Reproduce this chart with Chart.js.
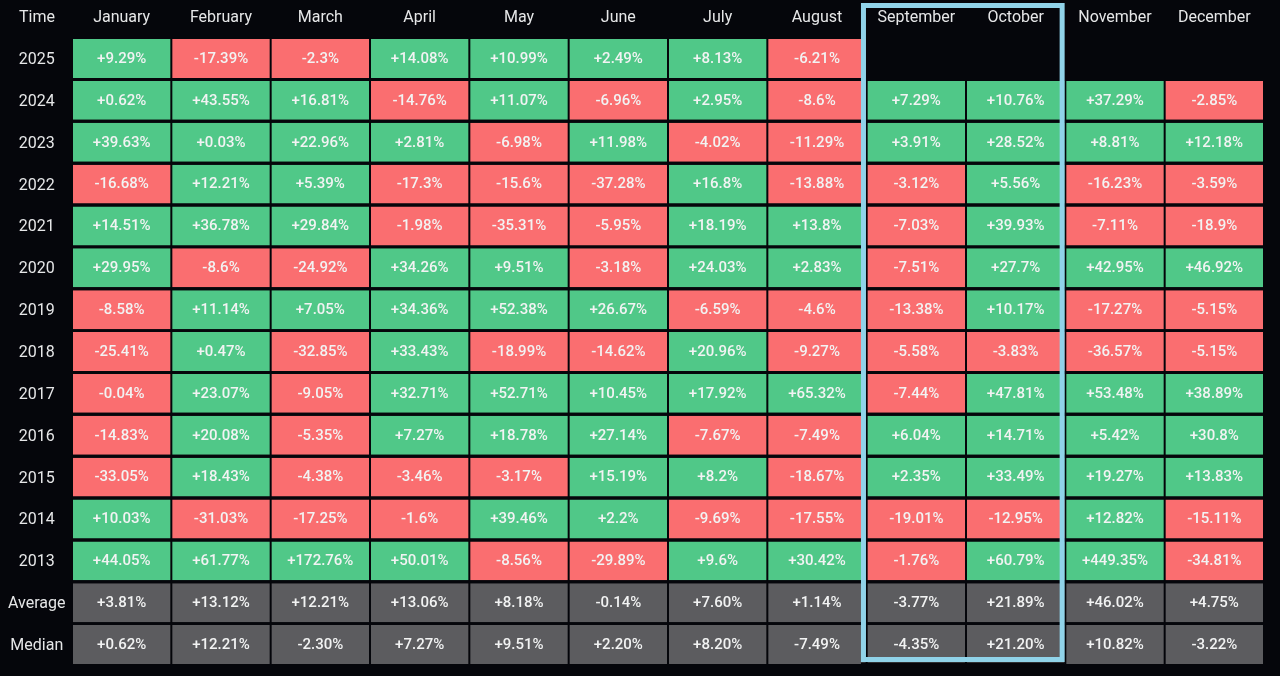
<!DOCTYPE html>
<html><head><meta charset="utf-8">
<script src="https://cdn.jsdelivr.net/npm/chart.js@4"></script>
<style>html,body{margin:0;padding:0;background:#05060b;overflow:hidden}canvas{display:block}</style>
</head><body><canvas id="c" width="1280" height="676"></canvas>
<script>
const months=['January','February','March','April','May','June','July','August','September','October','November','December'];
const rowLabels=['2025','2024','2023','2022','2021','2020','2019','2018','2017','2016','2015','2014','2013','Average','Median'];
const y2025=[9.29,-17.39,-2.3,14.08,10.99,2.49,8.13,-6.21,null,null,null,null];
const y2024=[0.62,43.55,16.81,-14.76,11.07,-6.96,2.95,-8.6,7.29,10.76,37.29,-2.85];
const y2023=[39.63,0.03,22.96,2.81,-6.98,11.98,-4.02,-11.29,3.91,28.52,8.81,12.18];
const y2022=[-16.68,12.21,5.39,-17.3,-15.6,-37.28,16.8,-13.88,-3.12,5.56,-16.23,-3.59];
const y2021=[14.51,36.78,29.84,-1.98,-35.31,-5.95,18.19,13.8,-7.03,39.93,-7.11,-18.9];
const y2020=[29.95,-8.6,-24.92,34.26,9.51,-3.18,24.03,2.83,-7.51,27.7,42.95,46.92];
const y2019=[-8.58,11.14,7.05,34.36,52.38,26.67,-6.59,-4.6,-13.38,10.17,-17.27,-5.15];
const y2018=[-25.41,0.47,-32.85,33.43,-18.99,-14.62,20.96,-9.27,-5.58,-3.83,-36.57,-5.15];
const y2017=[-0.04,23.07,-9.05,32.71,52.71,10.45,17.92,65.32,-7.44,47.81,53.48,38.89];
const y2016=[-14.83,20.08,-5.35,7.27,18.78,27.14,-7.67,-7.49,6.04,14.71,5.42,30.8];
const y2015=[-33.05,18.43,-4.38,-3.46,-3.17,15.19,8.2,-18.67,2.35,33.49,19.27,13.83];
const y2014=[10.03,-31.03,-17.25,-1.6,39.46,2.2,-9.69,-17.55,-19.01,-12.95,12.82,-15.11];
const y2013=[44.05,61.77,172.76,50.01,-8.56,-29.89,9.6,30.42,-1.76,60.79,449.35,-34.81];
const average=[3.81,13.12,12.21,13.06,8.18,-0.14,7.60,1.14,-3.77,21.89,46.02,4.75];
const median=[0.62,12.21,-2.30,7.27,9.51,2.20,8.20,-7.49,-4.35,21.20,10.82,-3.22];
const rows=[y2025,y2024,y2023,y2022,y2021,y2020,y2019,y2018,y2017,y2016,y2015,y2014,y2013,average,median];

const BG='#05060b',GREEN='#50c888',RED='#fa6e70',GREY='#5c5c5f',BOX='#90d3e9';
const FONT='Roboto, sans-serif';
const isSummary=r=>r>=13;
const fmt=(v,r)=>(v>=0?'+':'')+(isSummary(r)?v.toFixed(2):String(v))+'%';

const datasets=rows.map((vals,r)=>{
  const data=[];
  vals.forEach((v,m)=>{ if(v!==null) data.push({x:[m,m+1],y:rowLabels[r],v:v}); });
  return {
    label:rowLabels[r],data,grouped:false,
    backgroundColor:data.map(d=>isSummary(r)?GREY:(d.v>=0?GREEN:RED)),
    borderColor:BG,borderWidth:{left:1,right:1,top:0,bottom:0},borderSkipped:false,
    barPercentage:1,categoryPercentage:0.93
  };
});

const cellText={id:'cellText',afterDatasetsDraw(chart){
  const c=chart.ctx;c.save();
  c.font='500 15px '+FONT;c.fillStyle='#f2f3f3';c.textAlign='center';c.textBaseline='middle';
  chart.data.datasets.forEach((ds,r)=>{
    chart.getDatasetMeta(r).data.forEach((el,i)=>{
      const p=el.getCenterPoint();
      c.fillText(fmt(ds.data[i].v,r),p.x,p.y+0.5);
    });
  });
  c.fillStyle='#e6e7e8';c.font='400 16px '+FONT;
  c.fillText('Time',37,17.5);
  const x=chart.scales.x,ca=chart.chartArea;
  c.strokeStyle=BOX;c.lineWidth=5;
  const l=x.getPixelForValue(8)-3.2,r2=x.getPixelForValue(10)-3.2;
  c.strokeRect(l,5.5,r2-l,654);
  c.fillStyle=BG;c.fillRect(l-2.5,662.5,r2-l+5,ca.bottom-662.5+2);
  c.restore();
}};

new Chart(document.getElementById('c'),{
  type:'bar',
  data:{labels:rowLabels,datasets},
  plugins:[cellText],
  options:{
    indexAxis:'y',responsive:false,animation:false,
    parsing:{xAxisKey:'x',yAxisKey:'y'},
    layout:{padding:{left:0,top:0,right:16,bottom:10.5}},
    plugins:{legend:{display:false},tooltip:{enabled:false}},
    scales:{
      x:{type:'linear',min:0,max:12,display:false},
      xTop:{type:'category',axis:'x',position:'top',labels:months,offset:true,
        grid:{display:false,drawTicks:false},border:{display:false},
        ticks:{color:'#e6e7e8',font:{family:FONT,size:16,weight:'400'},padding:10.5,maxRotation:0,autoSkip:false},
        afterFit(s){s.height=37.6;s.paddingLeft=0;s.paddingRight=0;}},
      y:{type:'category',offset:true,
        grid:{display:false,drawTicks:false},border:{display:false},
        ticks:{color:'#e6e7e8',font:{family:FONT,size:16,weight:'400'},crossAlign:'center',padding:6.5,labelOffset:1.5,autoSkip:false},
        afterFit(s){s.width=72;s.paddingTop=0;s.paddingBottom=0;}}
    }
  }
});
</script></body></html>
